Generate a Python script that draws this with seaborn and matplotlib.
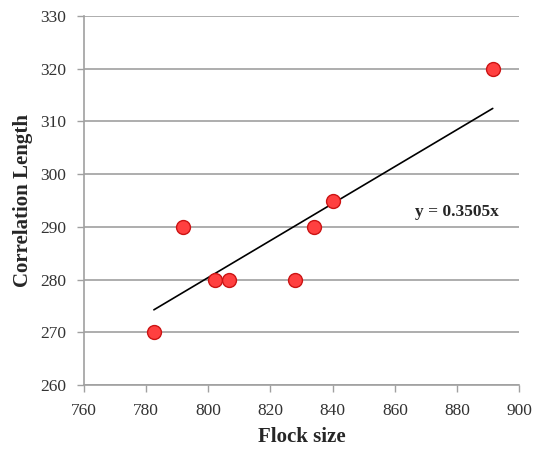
import matplotlib
matplotlib.use("Agg")
import matplotlib.pyplot as plt
import seaborn as sns
import numpy as np
import pandas as pd

flock_size = [782.5, 791.8, 802.3, 806.6, 828.0, 834.0, 840.0, 891.5]
corr_length = [270, 290, 280, 280, 280, 290, 295, 320]
slope = 0.3505
x_ticks = [760, 780, 800, 820, 840, 860, 880, 900]
y_ticks = [260, 270, 280, 290, 300, 310, 320, 330]

sns.set_style("white")
plt.rcParams['font.family'] = ['Liberation Serif', 'DejaVu Serif']

df = pd.DataFrame({"Flock size": flock_size, "Correlation Length": corr_length})

fig = plt.figure(figsize=(5.38, 4.5), dpi=100)
ax = fig.add_axes([0.156, 0.1444, 0.809, 0.82])

for y in y_ticks:
    ax.axhline(y, color="#a0a0a0", lw=1.2, zorder=0)

xl = np.array([min(flock_size), max(flock_size)])
sns.lineplot(x=xl, y=slope * xl, ax=ax, color="black", lw=1.2, zorder=2)

sns.scatterplot(data=df, x="Flock size", y="Correlation Length", ax=ax,
                s=100, color="#ff4040", edgecolor="#cc1414", linewidth=1.0, zorder=3)

ax.text(880, 292.8, "y = 0.3505x", fontsize=12.5, fontweight="bold", ha="center", va="center")

ax.set_xlim(760, 900)
ax.set_ylim(260, 330)
ax.set_xticks(x_ticks)
ax.set_yticks(y_ticks)
ax.tick_params(axis="both", labelsize=12.5, colors="#333333", length=5, width=1, direction="out",
               color="#a0a0a0", bottom=True, left=True, pad=8)
for side in ["top", "right"]:
    ax.spines[side].set_visible(False)
for side in ["left", "bottom"]:
    ax.spines[side].set_color("#a0a0a0")
    ax.spines[side].set_linewidth(1.2)

ax.set_xlabel("Flock size", fontsize=15, fontweight="bold", labelpad=6)
ax.set_ylabel("Correlation Length", fontsize=15, fontweight="bold", labelpad=5)

fig.savefig("out.png", dpi=100)
